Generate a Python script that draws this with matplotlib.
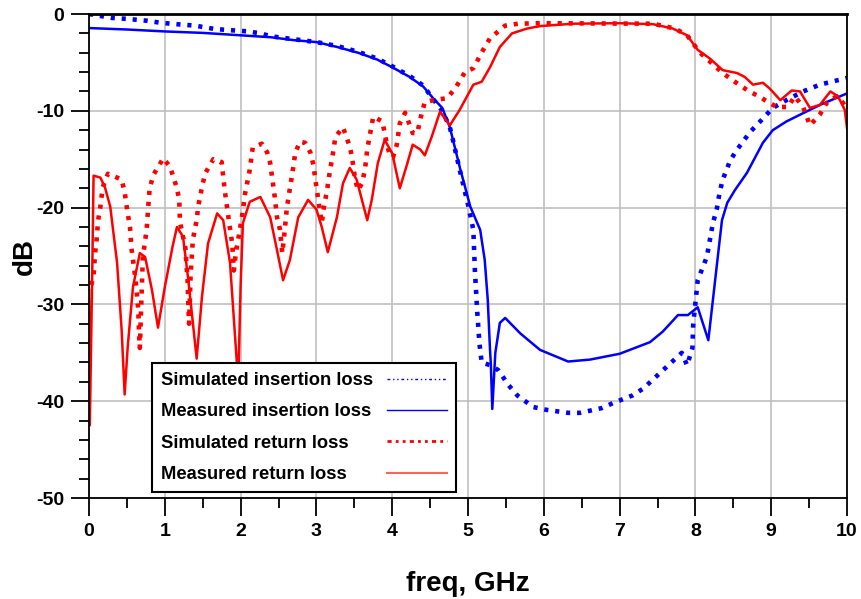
import numpy as np
import matplotlib
matplotlib.use("Agg")
import matplotlib.pyplot as plt
from matplotlib.lines import Line2D
from matplotlib.ticker import MultipleLocator

plt.rcParams['font.family'] = ['Liberation Sans', 'DejaVu Sans']
plt.rcParams['font.weight'] = 'bold'
plt.rcParams['axes.unicode_minus'] = False

# simulated insertion loss (S21), GHz / dB
sim_il_f = [0, 0.3, 0.5, 0.77, 0.94, 1.23, 1.4, 1.66, 1.83, 2.1, 2.26, 2.4, 2.7, 3.0,
            3.27, 3.55, 3.8, 4.0, 4.23, 4.41, 4.54, 4.66, 4.76, 4.8, 4.89, 5.0, 5.07,
            5.09, 5.12, 5.15, 5.18, 5.3, 5.4, 5.53, 5.65, 5.86, 6.04, 6.32, 6.48, 6.77,
            6.91, 7.17, 7.31, 7.53, 7.64, 7.82, 7.89, 7.96, 7.97, 8.03, 8.15, 8.23, 8.28,
            8.32, 8.36, 8.46, 8.55, 8.72, 8.83, 9.02, 9.2, 9.42, 9.64, 10.0]
sim_il_db = [0, -0.4, -0.5, -0.7, -0.9, -1.1, -1.2, -1.55, -1.65, -1.8, -2.0, -2.3, -2.6, -2.9,
             -3.3, -3.9, -4.6, -5.4, -6.4, -7.4, -8.8, -10.0, -11.7, -13.0, -16.1, -19.7, -22.3,
             -26.4, -30.6, -34.0, -36.0, -36.3, -36.8, -38.3, -39.4, -40.6, -40.9, -41.2, -41.2, -40.7,
             -40.2, -39.4, -38.7, -37.1, -36.3, -35.0, -36.3, -34.5, -32.1, -27.5, -25.1, -21.6, -20.2,
             -18.4, -17.1, -15.1, -14.0, -12.2, -11.3, -9.7, -8.9, -8.0, -7.3, -6.6]

# measured insertion loss
meas_il_f = [0, 0.5, 1.0, 1.5, 2.0, 2.4, 2.7, 3.0, 3.27, 3.55, 3.8, 4.0, 4.23, 4.41, 4.54,
             4.66, 4.76, 4.89, 5.03, 5.16, 5.22, 5.26, 5.29, 5.3, 5.32, 5.36, 5.42, 5.49,
             5.69, 5.95, 6.32, 6.61, 7.0, 7.4, 7.57, 7.77, 7.9, 8.03, 8.17, 8.28, 8.35,
             8.42, 8.52, 8.68, 8.89, 9.02, 9.2, 9.38, 9.64, 10.0]
meas_il_db = [-1.45, -1.6, -1.8, -1.95, -2.2, -2.4, -2.7, -2.9, -3.4, -4.0, -4.7, -5.5, -6.5, -7.5, -8.7,
              -9.7, -11.7, -15.8, -19.9, -22.3, -25.4, -29.5, -34.7, -36.0, -40.8, -35.0, -31.9, -31.4,
              -33.0, -34.7, -35.9, -35.7, -35.1, -33.9, -32.8, -31.1, -31.1, -30.3, -33.7, -26.1, -21.3,
              -19.5, -18.2, -16.4, -13.3, -12.0, -11.1, -10.4, -9.4, -8.2]

# simulated return loss (S11)
sim_rl_f = [0.03, 0.06, 0.08, 0.1, 0.12, 0.15, 0.18, 0.25, 0.34, 0.43, 0.47, 0.51, 0.54, 0.56,
            0.58, 0.61, 0.63, 0.65, 0.66, 0.67, 0.7, 0.71, 0.76, 0.78, 0.8, 0.85, 0.98, 1.07,
            1.16, 1.19, 1.2, 1.23, 1.27, 1.3, 1.31, 1.32, 1.34, 1.37, 1.42, 1.44, 1.49, 1.53,
            1.64, 1.75, 1.79, 1.83, 1.89, 1.91, 1.94, 1.99, 2.02, 2.06, 2.12, 2.16, 2.28, 2.35,
            2.39, 2.43, 2.45, 2.48, 2.52, 2.55, 2.58, 2.61, 2.65, 2.68, 2.72, 2.78, 2.85, 2.92,
            2.96, 3.0, 3.03, 3.07, 3.1, 3.14, 3.18, 3.21, 3.25, 3.35, 3.44, 3.47, 3.51, 3.55,
            3.6, 3.64, 3.67, 3.7, 3.75, 3.87, 3.93, 3.97, 4.01, 4.06, 4.1, 4.17, 4.27, 4.33,
            4.39, 4.43, 4.54, 4.72, 4.83, 4.96, 5.07, 5.2, 5.29, 5.49, 5.66, 5.95, 7.27, 7.44,
            7.73, 7.89, 8.06, 8.19, 8.36, 8.52, 8.69, 8.81, 9.07, 9.22, 9.31, 9.42, 9.51, 9.64,
            9.73, 9.86, 9.95, 10.0]
sim_rl_db = [-28.0, -27.0, -24.7, -23.3, -21.3, -19.9, -17.9, -16.5, -16.8, -17.1, -18.4, -20.6, -22.0, -24.2,
             -25.4, -27.2, -28.8, -30.6, -33.0, -34.5, -27.2, -25.1, -22.3, -20.0, -18.0, -16.6, -14.9, -15.8,
             -18.0, -19.2, -21.5, -22.6, -24.1, -27.5, -30.0, -32.0, -27.0, -23.3, -21.3, -19.9, -17.9, -16.5,
             -15.0, -15.3, -18.2, -20.5, -23.8, -26.5, -24.5, -22.3, -20.8, -18.5, -16.1, -13.8, -13.4, -14.3,
             -15.4, -17.7, -18.9, -21.0, -22.3, -24.7, -22.5, -20.0, -18.0, -16.6, -14.4, -13.2, -13.3, -14.3,
             -15.6, -17.9, -19.5, -21.6, -19.9, -18.2, -16.1, -14.8, -12.7, -11.7, -13.7, -14.8, -17.1, -18.2,
             -17.5, -16.1, -14.0, -12.7, -10.6, -11.1, -13.5, -14.6, -14.8, -13.5, -11.3, -10.2, -12.3, -12.3,
             -10.2, -9.1, -8.9, -8.7, -7.7, -6.0, -5.6, -3.7, -2.5, -1.2, -1.0, -0.95, -1.0, -1.0,
             -1.5, -2.2, -4.0, -4.9, -6.1, -7.0, -7.9, -8.4, -9.6, -9.6, -8.5, -9.6, -11.5, -10.4,
             -9.2, -8.5, -9.2, -9.9]

# measured return loss
meas_rl_f = [0.0, 0.01, 0.04, 0.06, 0.15, 0.21, 0.28, 0.37, 0.43, 0.47, 0.51, 0.58, 0.67, 0.74,
             0.83, 0.91, 1.0, 1.1, 1.16, 1.24, 1.31, 1.42, 1.49, 1.57, 1.69, 1.77, 1.86, 1.95,
             1.97, 2.0, 2.03, 2.12, 2.26, 2.39, 2.48, 2.56, 2.65, 2.76, 2.89, 3.0, 3.07, 3.15,
             3.27, 3.35, 3.44, 3.53, 3.6, 3.67, 3.73, 3.81, 3.9, 4.0, 4.1, 4.2, 4.27, 4.37,
             4.43, 4.52, 4.63, 4.76, 4.89, 5.07, 5.18, 5.29, 5.42, 5.58, 5.78, 5.95, 6.39, 7.0,
             7.44, 7.7, 7.89, 8.03, 8.19, 8.36, 8.55, 8.65, 8.76, 8.89, 8.98, 9.12, 9.27, 9.38,
             9.51, 9.64, 9.78, 9.88, 9.97, 10.0]
meas_rl_db = [-28.5, -42.5, -28.0, -16.7, -16.9, -17.9, -19.9, -25.7, -32.6, -39.3, -34.4, -28.2, -24.7, -25.1,
              -28.5, -32.4, -28.2, -24.1, -22.0, -23.0, -27.5, -35.6, -29.2, -23.7, -20.6, -21.3, -25.7, -36.0,
              -37.5, -28.0, -21.6, -19.4, -18.9, -21.0, -24.4, -27.5, -25.4, -21.0, -19.2, -20.2, -22.0, -24.6,
              -21.0, -17.5, -15.9, -17.1, -19.2, -21.3, -19.2, -15.4, -13.0, -14.4, -18.0, -15.4, -13.5, -14.0,
              -14.6, -12.7, -10.1, -11.5, -9.9, -7.3, -7.0, -5.5, -3.4, -2.0, -1.5, -1.25, -1.0, -0.95,
              -1.05, -1.5, -2.2, -3.7, -4.6, -5.8, -6.1, -6.5, -7.3, -7.1, -7.7, -8.9, -7.9, -8.0,
              -9.7, -9.4, -8.0, -8.5, -9.9, -11.8]

labels = ["Simulated insertion loss", "Measured insertion loss",
          "Simulated return loss", "Measured return loss"]

blue = '#0000ff'
red = '#ff0000'
dots = (0, (0.9, 1.5))

fig = plt.figure(figsize=(8.61, 5.99), dpi=100)
ax = fig.add_axes([0.1034, 0.1686, 0.8804, 0.808])

ax.plot(sim_il_f, sim_il_db, color=blue, lw=3.3, linestyle=dots, dash_capstyle='butt')
ax.plot(meas_il_f, meas_il_db, color=blue, lw=1.8)
ax.plot(sim_rl_f, sim_rl_db, color=red, lw=3.3, linestyle=dots, dash_capstyle='butt')
ax.plot(meas_rl_f, meas_rl_db, color=red, lw=1.8)

ax.set_xlim(0, 10)
ax.set_ylim(-50, 0)
ax.xaxis.set_major_locator(MultipleLocator(1))
ax.xaxis.set_minor_locator(MultipleLocator(0.5))
ax.yaxis.set_major_locator(MultipleLocator(10))
ax.yaxis.set_minor_locator(MultipleLocator(2))
ax.grid(True, which='major', color='#c0c0c0', lw=1.2)
ax.set_axisbelow(True)
ax.tick_params(which='major', direction='out', length=13, width=1.3, labelsize=14, pad=5)
ax.tick_params(which='minor', direction='out', length=7, width=1.3)
for sp in ax.spines.values():
    sp.set_linewidth(1.3)
    sp.set_color('black')
ax.spines['top'].set_linewidth(2)

ax.set_xlabel("freq, GHz", fontsize=20, fontweight='bold', labelpad=22)
ax.set_ylabel("dB", fontsize=20, fontweight='bold')
ax.yaxis.set_label_coords(-0.067, 0.5)

handles = [Line2D([], [], color=blue, lw=1, linestyle=(0, (2, 2, 1, 2, 1, 2))),
           Line2D([], [], color=blue, lw=1),
           Line2D([], [], color=red, lw=2, linestyle=(0, (1.5, 1.5, 1, 1.5, 1, 1.5))),
           Line2D([], [], color='#ff6060', lw=1.5)]
leg = ax.legend(handles, labels, loc='lower left', bbox_to_anchor=(0.083, 0.012),
                borderaxespad=0, markerfirst=False, fancybox=False, framealpha=1,
                edgecolor='black', prop={'size': 13.2, 'weight': 'bold'},
                handlelength=3.3, handletextpad=1.0, labelspacing=0.78, borderpad=0.5)
leg.get_frame().set_linewidth(1.5)
# text on the left, line sample pushed to the right edge of each row
for col in leg._legend_handle_box.get_children():
    col.align = 'left'
    for row in col.get_children():
        row.mode = 'expand'
        row.width = 286

fig.savefig("out.png", dpi=100)
